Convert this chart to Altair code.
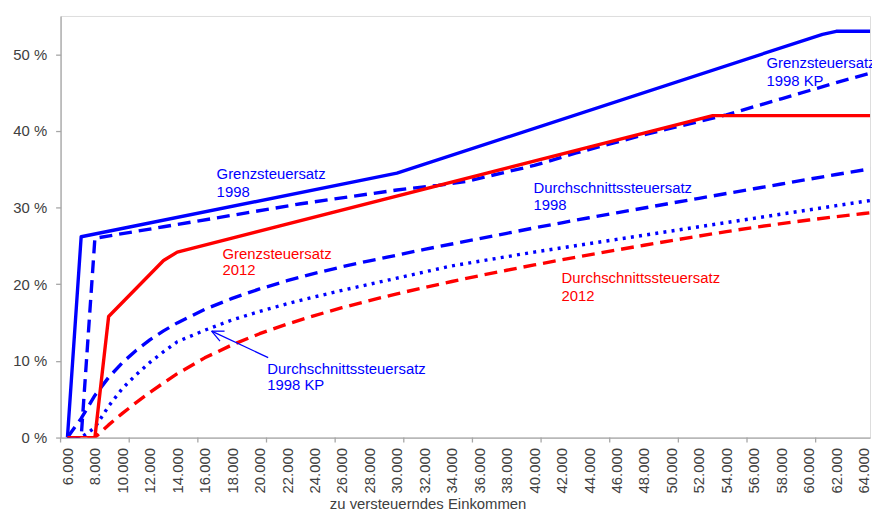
import altair as alt
import pandas as pd

FONT = "Liberation Sans"
BLUE = "#0000FF"
RED = "#FF0000"
AXIS_GREY = "#A6A6A6"
TEXT_GREY = "#404040"

# ---- data ---------------------------------------------------------------
# x grid for the average-rate curves (zu versteuerndes Einkommen, EUR)
AVG_X = [6000, 7000, 8000, 9000, 10000, 11000, 12000, 13000, 14000,
         16000, 18000, 20000, 22000, 24000, 26000, 28000, 30000, 32000,
         34000, 36000, 38000, 40000, 42000, 44000, 46000, 48000, 50000,
         52000, 54000, 56000, 58000, 60000, 62000, 64000, 65000]
# Durchschnittssteuersatz 1998 (%)
D1998 = [0, 2.5, 5.5, 7.85, 9.77, 11.37, 12.74, 13.92, 14.96,
         16.72, 18.16, 19.39, 20.46, 21.42, 22.28, 23.06, 23.80, 24.55,
         25.25, 25.95, 26.65, 27.35, 28.02, 28.68, 29.32, 29.95, 30.59,
         31.21, 31.84, 32.46, 33.08, 33.70, 34.32, 34.91, 35.2]
# Durchschnittssteuersatz 1998 KP (%)
D1998KP = [0, 0, 1.3, 4.1, 6.4, 8.2, 9.8, 11.2, 12.5,
           14.0, 15.35, 16.45, 17.45, 18.35, 19.2, 20.0, 20.8, 21.6,
           22.4, 23.0, 23.6, 24.2, 24.75, 25.3, 25.85, 26.4, 26.95,
           27.5, 28.05, 28.6, 29.15, 29.7, 30.25, 30.8, 31.05]
# Durchschnittssteuersatz 2012 (%)
D2012 = [0, 0, 0, 1.65, 3.16, 4.56, 5.88, 7.13, 8.33,
         10.4, 12.1, 13.55, 14.8, 15.92, 16.94, 17.88, 18.75, 19.58,
         20.36, 21.11, 21.83, 22.52, 23.19, 23.84, 24.47, 25.09, 25.69,
         26.29, 26.87, 27.41, 27.91, 28.38, 28.82, 29.23, 29.43]

# Grenzsteuersatz 1998 (%)
G1998_X = [6000, 7000, 30000, 61000, 62000, 65000]
G1998 = [0, 26.2, 34.5, 52.6, 53.0, 53.0]
# Grenzsteuersatz 1998 KP (%)
G1998KP_X = [6000, 7000, 8000, 13000, 23000, 30000, 33000, 35000, 40000,
             43000, 48000, 54000, 58000, 62000, 65000]
G1998KP = [0, 0, 26.0, 27.5, 30.5, 32.3, 32.9, 33.4, 35.5,
           37.1, 39.5, 42.1, 44.2, 46.3, 47.8]
# Grenzsteuersatz 2012 (%)
G2012_X = [6000, 8000, 9000, 13000, 14000, 53000, 65000]
G2012 = [0, 0, 15.8, 23.1, 24.2, 42.0, 42.0]

# axis labels / ticks
X_LABELS = [6000, 8000, 10000, 12000, 14000, 16000, 18000, 20000, 22000,
            24000, 26000, 28000, 30000, 32000, 34000, 36000, 38000, 40000,
            42000, 44000, 46000, 48000, 50000, 52000, 54000, 56000, 58000,
            60000, 62000, 64000]
X_TICKS = [5500, 10500, 15500, 20500, 25500, 30500, 35500, 40500, 45500,
           50500, 55500, 60500]
Y_TICKS = [0, 10, 20, 30, 40, 50]

# annotations (data coordinates)
LABEL_X = [16866, 16866, 17299, 17299, 20551, 20551, 39944, 39944,
           41988, 41988, 56916, 56916]
LABEL_Y = [34.4, 32.0, 24.0, 21.8, 9.0, 6.8, 32.6, 30.3, 20.8, 18.5, 48.8, 46.5]
LABEL_TEXT = ["Grenzsteuersatz", "1998", "Grenzsteuersatz", "2012",
              "Durchschnittssteuersatz", "1998 KP",
              "Durchschnittssteuersatz", "1998",
              "Durchschnittssteuersatz", "2012",
              "Grenzsteuersatz", "1998 KP"]
LABEL_COLOR = [BLUE, BLUE, RED, RED, BLUE, BLUE, BLUE, BLUE, RED, RED, BLUE, BLUE]

# arrow to the dotted curve: shaft and the two arms of the head
ARROW_X = [20623, 16504, 16504]
ARROW_Y = [10.43, 13.88, 13.88]
ARROW_X2 = [16504, 17444, 17111]
ARROW_Y2 = [13.88, 13.88, 12.59]

# ---- chart ---------------------------------------------------------------
W, H = 816, 425

xscale = alt.Scale(domain=[5500, 64460], nice=False, zero=False)
yscale = alt.Scale(domain=[0, 55], nice=False)

xaxis = alt.Axis(
    values=X_LABELS,
    labelExpr="replace(format(datum.value, ','), ',', '.')",
    labelAngle=270, ticks=False, labelPadding=10,
    labelOverlap=False, labelFlush=False, labelBound=False,
    labelFont=FONT, labelFontSize=15, labelColor=TEXT_GREY,
    domainColor=AXIS_GREY, domainWidth=1.3, grid=False,
    title="zu versteuerndes Einkommen", titleFont=FONT, titleFontSize=15,
    titleFontWeight="normal", titleColor=TEXT_GREY,
    titleX=370, titleY=67, titleAlign="center", titleBaseline="middle",
    titleAnchor="start",
)
yaxis = alt.Axis(
    values=Y_TICKS, labelExpr="datum.value + ' %'",
    tickSize=5, tickColor=AXIS_GREY, tickWidth=1.3, labelPadding=9,
    labelFont=FONT, labelFontSize=15, labelColor=TEXT_GREY,
    domainColor=AXIS_GREY, domainWidth=1.3, grid=False, title="",
)

X = alt.X("x:Q", scale=xscale, axis=xaxis)
Y = alt.Y("y:Q", scale=yscale, axis=yaxis)


def line(xs, ys, color, dash=None):
    df = pd.DataFrame({"x": xs, "y": ys})
    kw = dict(color=color, strokeWidth=3.4, clip=True, strokeJoin="round")
    if dash is not None:
        kw["strokeDash"] = dash
    return alt.Chart(df).mark_line(**kw).encode(x=X, y=Y)


layers = [
    line(AVG_X, D2012, RED, [13, 7]),
    line(AVG_X, D1998KP, BLUE, [3, 5.3]),
    line(AVG_X, D1998, BLUE, [13, 7]),
    line(G1998KP_X, G1998KP, BLUE, [13, 7]),
    line(G1998_X, G1998, BLUE),
    line(G2012_X, G2012, RED),
]

ticks = alt.Chart(pd.DataFrame({"x": X_TICKS})).mark_rule(
    color=AXIS_GREY, strokeWidth=1.3
).encode(x=X, y=alt.value(H), y2=alt.value(H + 5))

labels = alt.Chart(pd.DataFrame({
    "x": LABEL_X, "y": LABEL_Y, "text": LABEL_TEXT, "c": LABEL_COLOR
})).mark_text(align="left", baseline="middle", font=FONT, fontSize=15).encode(
    x=X, y=Y, text="text:N", color=alt.Color("c:N", scale=None)
)

arrow = alt.Chart(pd.DataFrame({
    "x": ARROW_X, "y": ARROW_Y, "x2": ARROW_X2, "y2": ARROW_Y2
})).mark_rule(color=BLUE, strokeWidth=1.3).encode(
    x=X, y=Y, x2="x2:Q", y2="y2:Q"
)

chart = alt.layer(*layers, ticks, arrow, labels).properties(
    width=W, height=H,
    autosize=alt.AutoSizeParams(type="none"),
    padding={"left": 53, "top": 6, "right": 2, "bottom": 73},
).configure_view(stroke="transparent").configure(font=FONT)

chart.save("out.html", embed_options={"renderer": "svg", "actions": False})
